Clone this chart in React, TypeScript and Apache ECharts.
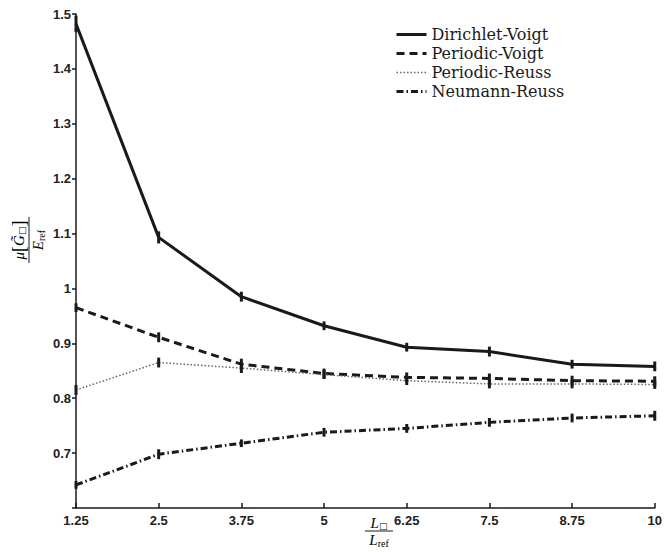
import React, { useEffect, useRef } from "react";
import * as echarts from "echarts";

// Domain size ratio L□ / L_ref
const xValues = [1.25, 2.5, 3.75, 5, 6.25, 7.5, 8.75, 10];

// Mean normalised shear modulus per boundary condition
const dirichletVoigt = [1.482, 1.093, 0.985, 0.932, 0.893, 0.885, 0.862, 0.858];
const periodicVoigt = [0.965, 0.911, 0.862, 0.845, 0.838, 0.836, 0.832, 0.831];
const periodicReuss = [0.815, 0.865, 0.855, 0.843, 0.832, 0.826, 0.826, 0.825];
const neumannReuss = [0.642, 0.698, 0.718, 0.738, 0.745, 0.756, 0.764, 0.768];

// Half-widths of the confidence intervals
const dirichletVoigtErr = [0.015, 0.011, 0.009, 0.008, 0.008, 0.009, 0.008, 0.009];
const periodicVoigtErr = [0.008, 0.009, 0.01, 0.009, 0.009, 0.009, 0.009, 0.009];
const periodicReussErr = [0.009, 0.009, 0.009, 0.008, 0.008, 0.008, 0.008, 0.008];
const neumannReussErr = [0.007, 0.009, 0.007, 0.008, 0.008, 0.008, 0.008, 0.009];

const seriesNames = ["Dirichlet-Voigt", "Periodic-Voigt", "Periodic-Reuss", "Neumann-Reuss"];

const ink = "#1a1a1a";
const mathFont = "Liberation Serif";

const styles = [
  { color: ink, width: 3, type: "solid" },
  { color: ink, width: 3, type: [8, 5] },
  { color: "#666", width: 1.5, type: [1.5, 2] },
  { color: ink, width: 3, type: [7, 3, 1.5, 3] },
];

function lineSeries(idx: number, values: number[]) {
  return {
    type: "line",
    name: seriesNames[idx],
    data: xValues.map((x, i) => [x, values[i]]),
    symbol: "none",
    lineStyle: styles[idx],
    z: 2,
  };
}

function errorSeries(values: number[], errs: number[]) {
  return {
    type: "custom",
    name: "err",
    data: xValues.map((x, i) => [x, values[i], errs[i]]),
    encode: { x: 0, y: 1 },
    z: 3,
    renderItem: (params: any, api: any) => {
      const x = api.value(0);
      const y = api.value(1);
      const e = api.value(2);
      const top = api.coord([x, y + e]);
      const bot = api.coord([x, y - e]);
      return {
        type: "rect",
        shape: { x: top[0] - 1.5, y: top[1], width: 3, height: bot[1] - top[1] },
        style: { fill: ink },
      };
    },
  };
}

const mathRich = {
  i: { fontFamily: mathFont, fontStyle: "italic", fontSize: 15, color: ink },
  b: { fontFamily: mathFont, fontSize: 18, color: "#555" },
  s: { fontFamily: "DejaVu Sans", fontSize: 9, color: ink, padding: [6, 0, 0, 0] },
  r: { fontFamily: mathFont, fontSize: 10, color: ink, padding: [6, 0, 0, 0] },
};

export default function App() {
  const ref = useRef<HTMLDivElement>(null);

  useEffect(() => {
    if (!ref.current) return;
    const chart = echarts.init(ref.current, undefined, { renderer: "svg" });
    chart.setOption({
      animation: false,
      backgroundColor: "#ffffff",
      grid: { left: 76, right: 7, top: 14, bottom: 44 },
      xAxis: {
        type: "value",
        min: 1.25,
        max: 10,
        interval: 1.25,
        splitLine: { show: false },
        axisLine: { lineStyle: { color: ink, width: 1.5 } },
        axisTick: { inside: true, length: 5, lineStyle: { color: ink, width: 1.5 } },
        axisLabel: {
          color: "#222",
          fontFamily: "Liberation Sans",
          fontWeight: "bold",
          fontSize: 13,
          margin: 6,
        },
      },
      yAxis: {
        type: "value",
        min: 0.6,
        max: 1.5,
        interval: 0.1,
        splitLine: { show: false },
        axisLine: { show: true, lineStyle: { color: ink, width: 1.5 } },
        axisTick: { show: true, length: 4, lineStyle: { color: ink, width: 1.5 } },
        axisLabel: {
          color: "#222",
          fontFamily: "Liberation Sans",
          fontWeight: "bold",
          fontSize: 13,
          margin: 5,
          formatter: (v: number) => (Math.abs(v - 0.6) < 1e-9 ? "" : String(+v.toFixed(1))),
        },
      },
      legend: {
        data: seriesNames.map((name, i) => ({ name, lineStyle: { ...styles[i] } })),
        orient: "vertical",
        left: 395,
        top: 25,
        padding: 0,
        itemWidth: 30,
        itemHeight: 14,
        itemGap: 0,
        itemStyle: { opacity: 0 },
        textStyle: {
          fontFamily: "DejaVu Serif",
          fontSize: 16,
          lineHeight: 19,
          color: ink,
        },
      },
      series: [
        lineSeries(0, dirichletVoigt),
        lineSeries(1, periodicVoigt),
        lineSeries(2, periodicReuss),
        lineSeries(3, neumannReuss),
        errorSeries(dirichletVoigt, dirichletVoigtErr),
        errorSeries(periodicVoigt, periodicVoigtErr),
        errorSeries(periodicReuss, periodicReussErr),
        errorSeries(neumannReuss, neumannReussErr),
      ],
      graphic: [
        {
          type: "group",
          x: 379,
          y: 531,
          children: [
            {
              type: "text",
              y: -1,
              style: { text: "{i|L}{s|□}", rich: mathRich, align: "center", verticalAlign: "bottom" },
            },
            {
              type: "line",
              shape: { x1: -14, y1: 0, x2: 14, y2: 0 },
              style: { stroke: ink, lineWidth: 1 },
            },
            {
              type: "text",
              y: 1,
              style: { text: "{i|L}{r|ref}", rich: mathRich, align: "center", verticalAlign: "top" },
            },
          ],
        },
        {
          type: "group",
          x: 29,
          y: 240,
          rotation: Math.PI / 2,
          children: [
            {
              type: "text",
              y: -1,
              style: {
                text: "{i|μ}{b|[}{i|G\u0303}{s|□}{b|]}",
                rich: mathRich,
                align: "center",
                verticalAlign: "bottom",
              },
            },
            {
              type: "line",
              shape: { x1: -23, y1: 0, x2: 23, y2: 0 },
              style: { stroke: ink, lineWidth: 1 },
            },
            {
              type: "text",
              y: 1,
              style: { text: "{i|E}{r|ref}", rich: mathRich, align: "center", verticalAlign: "top" },
            },
          ],
        },
      ],
    });
    return () => chart.dispose();
  }, []);

  return (
    <div
      ref={ref}
      style={{ position: "fixed", left: 0, top: 0, width: 665, height: 552, background: "#fff" }}
    />
  );
}
